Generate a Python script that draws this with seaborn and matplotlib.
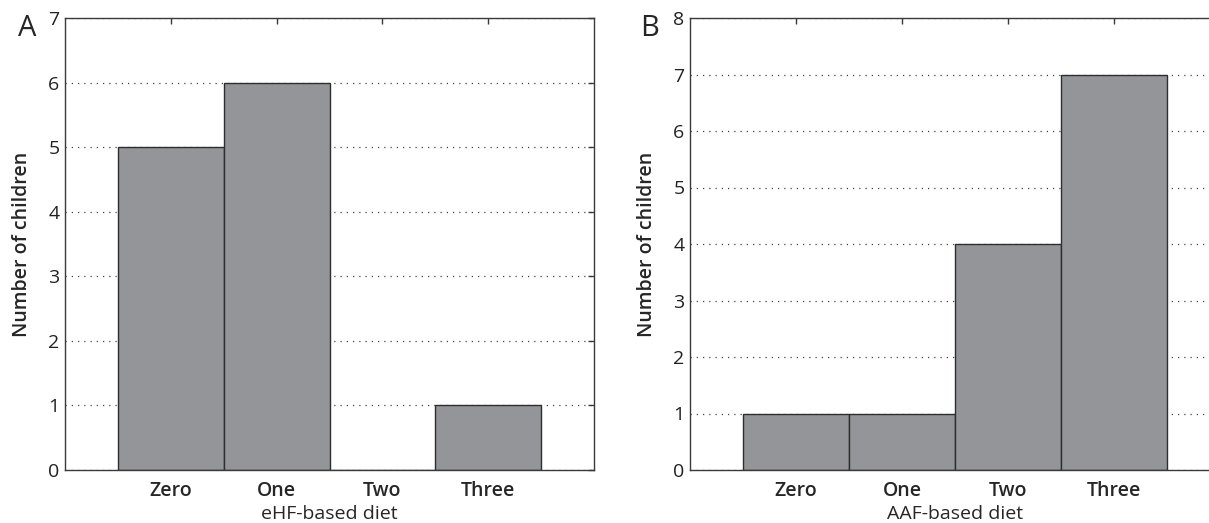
import matplotlib
matplotlib.use("Agg")
import matplotlib.pyplot as plt
import seaborn as sns
import pandas as pd

categories = ["Zero", "One", "Two", "Three"]
ehf_counts = [5, 6, 0, 1]
aaf_counts = [1, 1, 4, 7]
panel_labels = ["A", "B"]
x_titles = ["eHF-based diet", "AAF-based diet"]
y_title = "Number of children"
y_max = [7, 8]

sns.set_style("white")
plt.rcParams["font.family"] = ["Open Sans", "DejaVu Sans"]

fig = plt.figure(figsize=(12.09, 5.23), dpi=100)
W, H = 1209, 523
positions = [
    [65 / W, (H - 470) / H, 529 / W, 452 / H],
    [690 / W, (H - 470) / H, 530 / W, 452 / H],
]
label_xy = [(27 / W, 1 - 28 / H), (650 / W, 1 - 28 / H)]
bar_color = "#939598"
edge = "#2e2e2e"
spine_c = "#3a3a3a"

for i, counts in enumerate([ehf_counts, aaf_counts]):
    ax = fig.add_axes(positions[i])
    df = pd.DataFrame({"cat": categories, "n": counts})
    sns.barplot(data=df, x="cat", y="n", order=categories, color=bar_color,
                width=1.0, edgecolor=edge, linewidth=1.0, saturation=1,
                ax=ax, errorbar=None)
    ax.set_xlim(-1, 4)
    ax.set_ylim(0, y_max[i])
    ax.set_yticks(range(0, y_max[i] + 1))
    ax.set_axisbelow(True)
    ax.yaxis.grid(True, linestyle=(0, (1, 4)), linewidth=0.9, color="#444444")
    ax.xaxis.grid(False)
    for s in ax.spines.values():
        s.set_visible(True)
        s.set_color(spine_c)
        s.set_linewidth(1.0)
    ax.tick_params(axis="both", direction="in", length=4, width=1.0,
                   color=spine_c, top=True, right=True)
    ax.tick_params(axis="x", pad=8, labelsize=14)
    ax.tick_params(axis="y", pad=4, labelsize=14, labelcolor="#222222")
    for lab in ax.get_xticklabels():
        lab.set_fontweight("semibold")
    ax.set_xlabel(x_titles[i], fontsize=14, labelpad=3, fontweight="medium")
    ax.set_ylabel(y_title, fontsize=14, labelpad=12, fontweight="semibold")
    fig.text(label_xy[i][0], label_xy[i][1], panel_labels[i],
             fontsize=21, ha="center", va="center")

fig.savefig("out.png", dpi=100)
